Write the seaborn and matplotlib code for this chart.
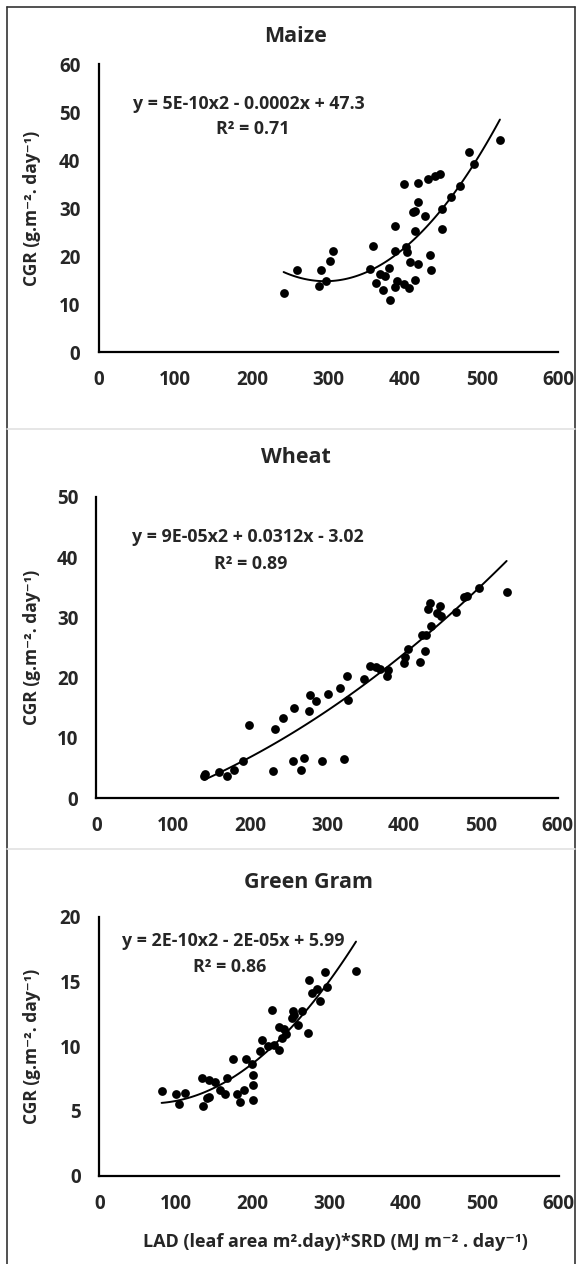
import numpy as np
import pandas as pd
import matplotlib
matplotlib.use("Agg")
import matplotlib.pyplot as plt
import seaborn as sns
from matplotlib.lines import Line2D

# values
maize_lad = [241.5, 258.8, 287.5, 290.8, 296.6, 301.4, 305.7, 353.6, 357.9, 362.2,
             366.9, 371.3, 374.2, 379.0, 380.5, 386.2, 386.7, 387.2, 390.0, 398.7,
             399.1, 400.6, 402.0, 404.9, 406.8, 409.7, 412.6, 413.0, 413.0, 416.9,
             416.9, 416.9, 426.4, 429.3, 432.7, 434.1, 439.4, 446.1, 447.5, 447.5,
             460.0, 471.5, 484.0, 490.2, 523.7]
maize_cgr = [12.4, 17.1, 13.9, 17.1, 14.9, 19.0, 21.2, 17.4, 22.2, 14.4,
             16.3, 12.9, 15.8, 17.5, 10.8, 26.4, 21.0, 13.7, 14.9, 35.1,
             14.2, 21.9, 20.9, 13.4, 18.8, 29.2, 29.5, 25.2, 15.1, 35.3,
             31.3, 18.3, 28.3, 36.0, 20.2, 17.1, 36.7, 37.1, 29.8, 25.6,
             32.4, 34.7, 41.8, 39.2, 44.2]

wheat_lad = [140.5, 141.4, 160.1, 170.6, 179.2, 191.1, 199.2, 229.3, 232.2, 243.2,
             255.6, 257.0, 266.1, 269.5, 277.1, 278.6, 285.2, 293.8, 301.5, 316.8,
             322.5, 326.3, 327.7, 347.8, 355.5, 364.1, 368.9, 378.4, 379.8, 399.9,
             401.3, 405.2, 420.4, 424.2, 427.6, 429.0, 431.4, 434.3, 435.2, 443.4,
             446.7, 448.2, 468.2, 477.8, 482.6, 498.3, 533.7]
wheat_cgr = [3.7, 4.1, 4.3, 3.7, 4.7, 6.2, 12.1, 4.5, 11.5, 13.3,
             6.2, 14.9, 4.7, 6.6, 14.4, 17.1, 16.1, 6.2, 17.3, 18.3,
             6.5, 20.2, 16.3, 19.8, 22.0, 21.8, 21.5, 20.3, 21.2, 22.5,
             23.4, 24.7, 22.6, 27.0, 24.5, 27.0, 31.3, 32.3, 28.6, 30.7,
             31.9, 30.2, 30.9, 33.4, 33.6, 34.8, 34.2]

gram_lad = [81.5, 100.6, 104.0, 111.6, 134.6, 135.6, 140.4, 142.8, 143.7, 150.9,
            157.2, 163.9, 166.7, 174.4, 180.2, 183.5, 189.3, 191.7, 199.8, 200.8,
            201.2, 200.3, 209.4, 213.2, 219.9, 225.2, 228.1, 234.8, 235.3, 238.6,
            241.0, 244.4, 252.5, 252.0, 254.4, 259.7, 265.0, 272.6, 273.6, 278.4,
            284.1, 288.5, 294.7, 298.1, 335.4]
gram_cgr = [6.5, 6.3, 5.5, 6.4, 7.5, 5.4, 6.0, 6.1, 7.4, 7.2,
            6.6, 6.3, 7.5, 9.0, 6.3, 5.7, 6.6, 9.0, 8.6, 7.8,
            7.0, 5.8, 9.6, 10.5, 10.0, 12.8, 10.1, 9.7, 11.5, 10.6,
            11.3, 10.9, 12.7, 12.2, 12.4, 11.6, 12.7, 11.0, 15.1, 14.1,
            14.4, 13.5, 15.7, 14.6, 15.8]

titles = ["Maize", "Wheat", "Green Gram"]
equations = ["y = 5E-10x2 - 0.0002x + 47.3",
             "y = 9E-05x2 + 0.0312x - 3.02",
             "y = 2E-10x2 - 2E-05x + 5.99"]
r2_labels = ["R² = 0.71", "R² = 0.89", "R² = 0.86"]
y_max = [60, 50, 20]
y_step = [10, 10, 5]

sns.set_style("white")
plt.rcParams["font.family"] = ["Open Sans", "DejaVu Sans"]
plt.rcParams["font.weight"] = "bold"

W, H = 576, 1264
fig = plt.figure(figsize=(W / 100, H / 100), dpi=100)

# axes boxes in pixels: x of 0, x of 600, y of 0, y of top
boxes = [(98.5, 558.4, 352.3, 64.3),
         (96.3, 557.6, 798.3, 496.7),
         (99.2, 558.6, 1175.5, 916.7)]
title_pos = [(296, 36), (296, 458), (308, 883)]
eq_pos = [((196, 51.7), (201, 46.5)),
          ((197, 43.3), (201, 38.9)),
          ((175, 18.15), (170, 16.1))]

datasets = [(maize_lad, maize_cgr), (wheat_lad, wheat_cgr), (gram_lad, gram_cgr)]

for i, (lad, cgr) in enumerate(datasets):
    x0, x1, y0, y1 = boxes[i]
    ax = fig.add_axes([x0 / W, 1 - y0 / H, (x1 - x0) / W, (y0 - y1) / H])
    df = pd.DataFrame({"lad": lad, "cgr": cgr})
    sns.regplot(data=df, x="lad", y="cgr", order=2, ci=None, ax=ax,
                color="black",
                scatter_kws={"s": 40, "color": "black", "linewidths": 0, "alpha": 1},
                line_kws={"lw": 1.4, "color": "black"})
    ax.set_xlim(0, 600)
    ax.set_ylim(0, y_max[i])
    ax.set_xticks(np.arange(0, 601, 100))
    ax.set_yticks(np.arange(0, y_max[i] + 1, y_step[i]))
    sns.despine(ax=ax)
    for s in ["left", "bottom"]:
        ax.spines[s].set_linewidth(1.6)
        ax.spines[s].set_color("black")
    ax.tick_params(direction="in", length=5, width=1.4, color="black",
                   labelsize=13.5, pad=13)
    for lab in ax.get_xticklabels() + ax.get_yticklabels():
        lab.set_fontweight("bold")
    ax.set_xlabel("")
    ax.set_ylabel("CGR (g.m⁻². day⁻¹)", fontsize=12.5, fontweight="bold")
    ax.yaxis.set_label_coords((41 - x0) / (x1 - x0), 0.5)
    ax.patch.set_visible(False)

    (ex, ey), (rx, ry) = eq_pos[i]
    ax.text(ex, ey, equations[i], ha="center", va="center", fontsize=12.8, fontweight="bold")
    ax.text(rx, ry, r2_labels[i], ha="center", va="center", fontsize=12.8, fontweight="bold")

    tx, ty = title_pos[i]
    fig.text(tx / W, 1 - ty / H, titles[i], ha="center", va="center",
             fontsize=15.5, fontweight="bold")

fig.text(335 / W, 1 - 1242 / H, "LAD (leaf area m².day)*SRD (MJ m⁻² . day⁻¹)",
         ha="center", va="center", fontsize=13, fontweight="bold")

# frame around the panels and light separators between them
fig.add_artist(Line2D([6.5 / W, 6.5 / W], [0, 1 - 6.7 / H], color="#333333", lw=1.2))
fig.add_artist(Line2D([6.5 / W, 575 / W], [1 - 6.7 / H, 1 - 6.7 / H], color="#333333", lw=1.2))
fig.add_artist(Line2D([575 / W, 575 / W], [0, 1 - 6.7 / H], color="#333333", lw=1.2))
for sy in [429, 849.3]:
    fig.add_artist(Line2D([7 / W, 575 / W], [1 - sy / H, 1 - sy / H], color="#e2e2e2", lw=1.2))

fig.savefig("out.png", dpi=100)
